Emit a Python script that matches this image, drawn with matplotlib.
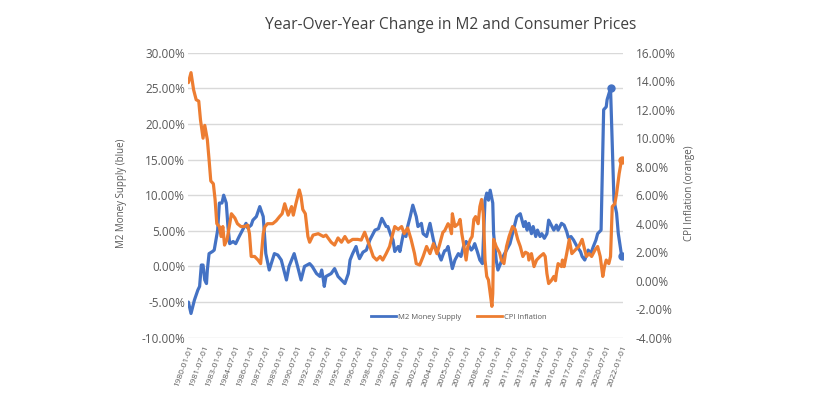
import matplotlib
matplotlib.use("Agg")
import matplotlib.pyplot as plt
from matplotlib.ticker import FuncFormatter
from matplotlib.lines import Line2D

# ---------------- data ----------------
# x positions are months since 1980-01
m2_month = [0, 3, 7, 11, 13, 15, 17, 19, 21, 22, 24, 28, 30, 32, 34, 36, 39, 41, 44, 46,
            48, 52, 55, 59, 65, 67, 69, 73, 75, 79, 83, 87, 90, 94, 100, 104, 108, 112, 114,
            117, 120, 123, 127, 131, 135, 141, 144, 149, 153, 155, 157, 158, 160, 166, 170,
            174, 178, 182, 186, 188, 191, 195, 197, 199, 203, 207, 211, 217, 221, 225, 230,
            232, 236, 238, 240, 244, 246, 250, 253, 255, 258, 261, 265, 267, 271, 273, 277,
            281, 285, 287, 291, 294, 296, 298, 300, 302, 305, 307, 310, 314, 317, 320, 323,
            325, 329, 331, 333, 336, 339, 342, 345, 347, 349, 351, 354, 355, 358, 360, 363,
            366, 370, 374, 378, 382, 386, 390, 392, 394, 396, 399, 401, 404, 406, 409, 411,
            414, 417, 419, 421, 425, 428, 430, 434, 437, 440, 442, 445, 448, 452, 456, 458,
            461, 465, 468, 471, 474, 476, 480, 483, 486, 487, 491, 495, 498, 500, 504]
m2_yoy = [-5.0, -6.6, -4.7, -3.3, -2.8, 0.2, 0.2, -1.9, -2.4, -0.5, 1.8, 2.1, 2.3, 3.7, 5.1,
          8.9, 8.9, 10.0, 8.9, 5.6, 3.2, 3.5, 3.2, 4.2, 5.6, 6.05, 5.4, 5.8, 6.5, 7.0, 8.4, 7.0,
          1.8, -0.5, 1.8, 1.6, 0.9, -1.0, -1.9, 0.0, 0.9, 1.8, 0.0, -1.9, 0.0, 0.4, 0.0, -1.0,
          -1.4, -0.5, -1.9, -2.8, -1.4, -1.0, -0.3, -1.4, -1.9, -2.4, -1.0, 0.9, 1.8, 2.8, 1.8,
          1.1, 2.0, 2.3, 3.7, 5.1, 5.3, 6.75, 5.6, 5.6, 4.2, 3.7, 2.1, 2.8, 2.1, 4.6, 4.2, 5.6,
          7.0, 8.6, 7.0, 5.6, 6.05, 4.6, 4.2, 6.05, 3.7, 2.8, 1.8, 0.9, 1.6, 2.2, 2.3, 2.8, 0.9,
          -0.3, 0.9, 1.8, 1.4, 2.8, 3.5, 3.2, 2.3, 2.6, 3.2, 2.1, 0.9, 0.4, 9.3, 10.3, 9.3,
          10.7, 8.9, 4.6, 0.9, -0.5, 0.4, 1.4, 2.3, 3.2, 5.1, 7.0, 7.4, 5.6, 6.3, 5.1, 6.05,
          4.6, 5.6, 4.2, 5.1, 4.2, 4.6, 3.95, 4.6, 6.5, 6.05, 5.1, 5.8, 5.1, 6.05, 5.8, 4.9,
          4.0, 4.2, 3.7, 2.8, 2.1, 1.4, 0.9, 2.3, 1.8, 2.8, 3.7, 4.6, 5.1, 22.0, 22.4, 23.4,
          25.0, 9.3, 7.5, 4.65, 1.4]

cpi_month = [0, 3, 6, 9, 12, 14, 17, 19, 22, 24, 26, 29, 31, 33, 36, 38, 40, 42, 45, 50, 54,
             57, 61, 65, 69, 71, 73, 77, 81, 84, 87, 89, 92, 96, 98, 102, 106, 109, 112, 116,
             120, 122, 125, 129, 131, 133, 136, 139, 141, 145, 151, 157, 160, 166, 170, 174,
             178, 182, 186, 191, 197, 201, 205, 211, 215, 219, 223, 226, 230, 234, 236, 240,
             244, 248, 251, 255, 259, 263, 265, 269, 273, 277, 281, 285, 289, 292, 296, 298,
             302, 304, 306, 307, 310, 314, 316, 318, 320, 323, 325, 328, 330, 332, 334, 337,
             339, 341, 343, 345, 347, 349, 351, 353, 354, 355, 358, 362, 364, 367, 370, 373,
             377, 380, 383, 386, 389, 392, 395, 396, 399, 402, 405, 409, 413, 415, 417, 419,
             422, 425, 427, 428, 430, 434, 435, 437, 440, 443, 446, 450, 454, 458, 461, 463,
             466, 469, 473, 476, 479, 482, 484, 486, 489, 491, 493, 496, 498, 501, 503, 504]
cpi_yoy = [13.9, 14.6, 13.4, 12.7, 12.6, 11.3, 10.0, 10.9, 9.9, 8.5, 7.0, 6.8, 5.7, 4.0, 3.8,
           3.1, 3.8, 2.5, 2.9, 4.7, 4.4, 4.0, 3.8, 3.8, 3.9, 3.3, 1.7, 1.7, 1.45, 1.2, 3.3,
           3.8, 4.0, 4.0, 4.0, 4.2, 4.5, 4.7, 5.4, 4.6, 5.2, 4.6, 5.4, 6.37, 5.9, 5.0, 4.7,
           3.1, 2.7, 3.2, 3.3, 3.1, 3.2, 2.7, 2.5, 3.0, 2.7, 3.1, 2.7, 2.9, 2.9, 2.85, 3.4,
           2.4, 1.69, 1.45, 1.7, 1.45, 1.9, 2.4, 2.9, 3.8, 3.6, 3.8, 3.3, 3.7, 2.9, 1.9, 1.2,
           1.1, 1.7, 2.4, 1.9, 2.6, 1.9, 2.5, 3.4, 3.5, 4.0, 3.8, 3.3, 4.7, 3.8, 4.0, 4.3,
           3.3, 2.6, 1.45, 2.4, 2.9, 3.1, 4.3, 4.5, 4.0, 5.2, 5.7, 4.7, 1.45, 0.3, 0.05, -0.9,
           -1.8, -0.9, 2.9, 2.4, 1.95, 1.45, 1.2, 2.4, 3.1, 3.8, 3.6, 2.9, 2.4, 1.7, 2.0, 1.9,
           1.45, 1.9, 0.99, 1.45, 1.7, 1.9, 1.7, 0.5, -0.2, 0.0, 0.3, 0.0, 0.5, 1.2, 0.99,
           1.45, 0.99, 1.9, 2.9, 1.9, 2.16, 2.4, 2.9, 2.16, 1.7, 1.9, 1.7, 2.16, 2.4, 1.7,
           0.3, 1.0, 1.45, 1.2, 1.7, 5.2, 5.4, 6.1, 7.5, 8.2, 8.47]

tick_labels = ["1980-01-01", "1981-07-01", "1983-01-01", "1984-07-01", "1986-01-01",
               "1987-07-01", "1989-01-01", "1990-07-01", "1992-01-01", "1993-07-01",
               "1995-01-01", "1996-07-01", "1998-01-01", "1999-07-01", "2001-01-01",
               "2002-07-01", "2004-01-01", "2005-07-01", "2007-01-01", "2008-07-01",
               "2010-01-01", "2011-07-01", "2013-01-01", "2014-07-01", "2016-01-01",
               "2017-07-01", "2019-01-01", "2020-07-01", "2022-01-01"]

left_ticks = [-10, -5, 0, 5, 10, 15, 20, 25, 30]
right_ticks = [-4, -2, 0, 2, 4, 6, 8, 10, 12, 14, 16]

title = "Year-Over-Year Change in M2 and Consumer Prices"
m2_name = "M2 Money Supply"
cpi_name = "CPI Inflation"

# ---------------- style ----------------
BLUE = "#4472C4"
ORANGE = "#ED7D31"
GRID = "#D9D9D9"
TXT = "#595959"
FONT = ["Open Sans", "DejaVu Sans"]
plt.rcParams["font.family"] = FONT

fig = plt.figure(figsize=(8.15, 3.98), dpi=100)
ax = fig.add_axes([188 / 815, 1 - 337.7 / 398, 435 / 815, 285 / 398])
ax2 = ax.twinx()

ax.set_xlim(-0.5, 505.5)
ax.set_ylim(-10, 30)
ax2.set_ylim(-4, 16)

ax.set_yticks(left_ticks)
ax2.set_yticks(right_ticks)
ax.yaxis.set_major_formatter(FuncFormatter(lambda v, p: f"{v:.2f}%"))
ax2.yaxis.set_major_formatter(FuncFormatter(lambda v, p: f"{v:.2f}%"))

ax.set_xticks([18 * i for i in range(len(tick_labels))])
ax.set_xticklabels(tick_labels, rotation=70, ha="right", va="top",
                   rotation_mode="anchor", fontsize=6, color=TXT)

ax.grid(axis="y", color=GRID, lw=1.0)
ax.set_axisbelow(True)
for a in (ax, ax2):
    for s in a.spines.values():
        s.set_visible(False)
ax.tick_params(axis="y", length=0, pad=2, labelsize=8.5, labelcolor=TXT)
ax2.tick_params(axis="y", length=0, pad=9, labelsize=8.5, labelcolor=TXT)
ax.tick_params(axis="x", length=0, pad=5)

ax.plot(m2_month, m2_yoy, color=BLUE, lw=2.3, solid_joinstyle="round",
        solid_capstyle="round", zorder=3)
ipk = m2_yoy.index(max(m2_yoy))
ax.plot([m2_month[ipk], m2_month[-1]], [m2_yoy[ipk], m2_yoy[-1]], ls="none",
        marker="o", ms=5, color=BLUE, zorder=4)
ax2.plot(cpi_month, cpi_yoy, color=ORANGE, lw=2.3, solid_joinstyle="round",
         solid_capstyle="round", zorder=3)
ax2.plot([cpi_month[-1]], [cpi_yoy[-1]], ls="none", marker="o", ms=5,
         color=ORANGE, zorder=4)

ax.set_ylabel("M2 Money Supply (blue)", fontsize=7, color=TXT)
ax.yaxis.set_label_coords((127 - 188) / 435, 0.508)
ax2.set_ylabel("CPI Inflation (orange)", fontsize=7, color=TXT, rotation=90)
ax2.yaxis.set_label_coords((684 - 188) / 435, 0.508)

fig.text(451 / 815, 1 - 25 / 398, title, ha="center", va="center",
         fontsize=11.2, color="#404040")

handles = [Line2D([], [], color=BLUE, lw=2.0), Line2D([], [], color=ORANGE, lw=2.0)]
fig.legend(handles, [m2_name, cpi_name], loc="center", ncol=2, frameon=False,
           bbox_to_anchor=(459 / 815, 1 - 317 / 398), fontsize=5.5,
           handlelength=3.3, handletextpad=0.3, columnspacing=2.0, labelcolor=TXT)

fig.savefig("out.png", dpi=100)
